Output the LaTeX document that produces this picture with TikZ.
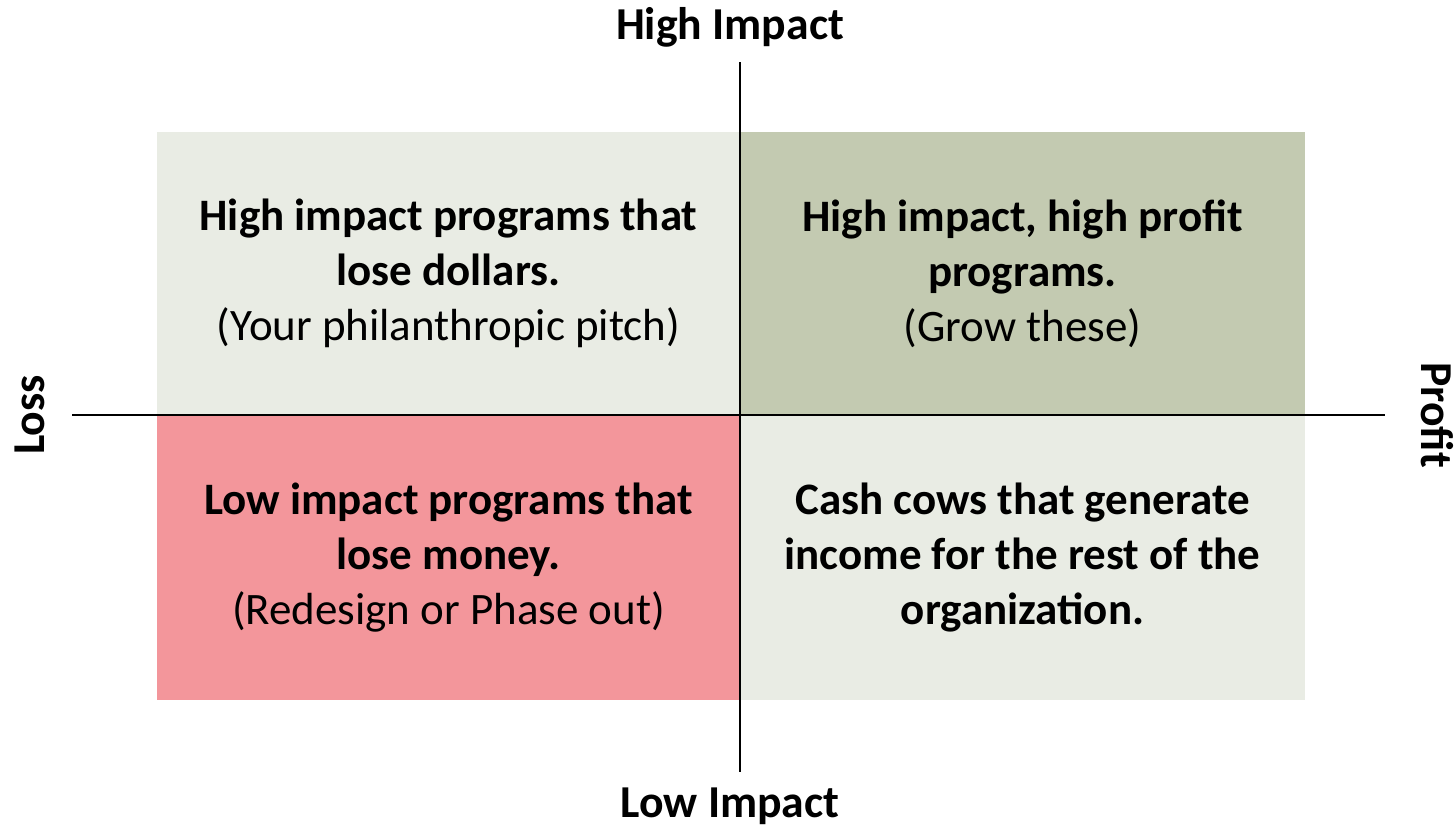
\documentclass[tikz,border=0pt]{standalone}
\usepackage{fontspec}
\setmainfont{Carlito}
\definecolor{paleQuad}{RGB}{233,236,228}
\definecolor{oliveQuad}{RGB}{195,202,177}
\definecolor{pinkQuad}{RGB}{243,150,155}
\tikzset{
  quad/.style={shape=rectangle,minimum height=2.84cm,inner sep=0pt,align=center,font=\fontsize{12.8}{15.6}\selectfont},
  lossQuad/.style={quad,minimum width=5.83cm},
  profitQuad/.style={quad,minimum width=5.65cm},
  axis/.style={line width=0.7pt,black},
  axislabel/.style={font=\fontsize{13}{15}\selectfont\bfseries,inner sep=0pt}
}
\begin{document}
\begin{tikzpicture}
  \useasboundingbox (0,0) rectangle (14.55,8.30);
  \node[lossQuad,fill=paleQuad] (highLoss) at (4.485,5.565) {\textbf{High impact programs that}\\\textbf{lose dollars.}\\(Your philanthropic pitch)};
  \node[profitQuad,fill=oliveQuad] (highProfit) at (10.225,5.565) {\textbf{High impact, high profit}\\\textbf{programs.}\\(Grow these)};
  \node[lossQuad,fill=pinkQuad] (lowLoss) at (4.485,2.725) {\textbf{Low impact programs that}\\\textbf{lose money.}\\(Redesign or Phase out)};
  \node[profitQuad,fill=paleQuad] (lowProfit) at (10.225,2.725) {\textbf{Cash cows that generate}\\\textbf{income for the rest of the}\\\textbf{organization.}};

  \coordinate (topEnd) at (7.40,7.68);
  \coordinate (bottomEnd) at (7.40,0.58);
  \coordinate (leftEnd) at (0.72,4.15);
  \coordinate (rightEnd) at (13.85,4.15);

  \node[axislabel] (highImpact) at (7.30,8.03) {High Impact};
  \node[axislabel] (lowImpact) at (7.30,0.24) {Low Impact};
  \node[axislabel,rotate=90] (loss) at (0.30,4.15) {Loss};
  \node[axislabel,rotate=-90] (profit) at (14.37,4.15) {Profit};

  \path [axis] (topEnd) edge (bottomEnd);
  \path [axis] (leftEnd) edge (rightEnd);
\end{tikzpicture}
\end{document}
